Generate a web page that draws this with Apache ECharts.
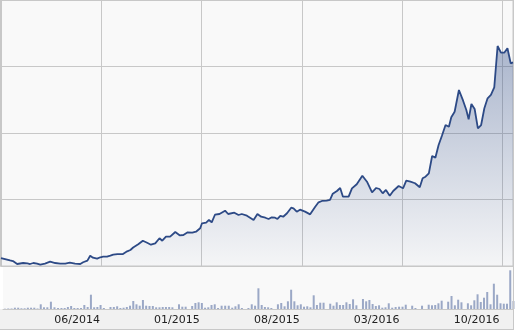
<!DOCTYPE html>
<html><head><meta charset="utf-8">
<script src="https://cdn.jsdelivr.net/npm/echarts@6/dist/echarts.min.js"></script>
<style>html,body{margin:0;padding:0;background:#fff}#c{width:524px;height:331px}</style>
</head><body><div id="c"></div>
<script>
// ---- data ----
const priceDates = [
 '2013-11-01','2013-11-20','2013-11-26','2013-12-05','2013-12-18','2013-12-27',
 '2014-01-02','2014-01-09','2014-01-17','2014-01-24','2014-02-03','2014-02-13','2014-02-23',
 '2014-03-05','2014-03-16','2014-03-26','2014-04-06','2014-04-17','2014-04-23',
 '2014-05-02','2014-05-08','2014-05-14','2014-05-23','2014-05-30',
 '2014-06-05','2014-06-13','2014-06-20','2014-06-26',
 '2014-07-05','2014-07-11','2014-07-17','2014-07-26',
 '2014-08-02','2014-08-08','2014-08-19','2014-08-29',
 '2014-09-07','2014-09-15','2014-09-24',
 '2014-10-03','2014-10-09','2014-10-17','2014-10-26',
 '2014-11-06','2014-11-15','2014-11-23',
 '2014-12-02','2014-12-12','2014-12-20','2014-12-29',
 '2015-01-02','2015-01-11','2015-01-17','2015-01-23','2015-01-30',
 '2015-02-08','2015-02-19','2015-02-25',
 '2015-03-10','2015-03-19','2015-03-26',
 '2015-04-06','2015-04-20','2015-04-28',
 '2015-05-06','2015-05-15','2015-05-22','2015-05-29',
 '2015-06-05','2015-06-10','2015-06-16','2015-06-22','2015-06-30',
 '2015-07-09','2015-07-14','2015-07-21','2015-07-28',
 '2015-08-08','2015-08-19','2015-08-30',
 '2015-09-06','2015-09-13','2015-09-23','2015-09-30',
 '2015-10-06','2015-10-15','2015-10-22','2015-10-28',
 '2015-11-09','2015-11-16','2015-11-26',
 '2015-12-08','2015-12-18','2015-12-29',
 '2016-01-07','2016-01-14','2016-01-21','2016-01-28',
 '2016-02-05','2016-02-12','2016-02-23',
 '2016-03-03','2016-03-10','2016-03-19','2016-03-29',
 '2016-04-08','2016-04-14','2016-04-20','2016-04-27',
 '2016-05-04','2016-05-11','2016-05-18','2016-05-25',
 '2016-06-02','2016-06-09','2016-06-14','2016-06-21','2016-06-30',
 '2016-07-09','2016-07-16','2016-07-21','2016-07-27',
 '2016-08-03','2016-08-10','2016-08-17','2016-08-24','2016-08-31',
 '2016-09-07','2016-09-14','2016-09-21','2016-09-28',
 '2016-10-05','2016-10-12','2016-10-19','2016-10-24'
];
const priceValues = [
 11.20,10.83,10.75,10.30,10.45,10.41,
 10.30,10.45,10.35,10.20,10.35,10.65,10.45,
 10.35,10.35,10.50,10.35,10.30,10.56,
 10.80,11.55,11.25,11.10,11.31,
 11.40,11.40,11.55,11.70,
 11.80,11.80,11.80,12.21,
 12.41,12.78,13.26,13.80,
 13.50,13.20,13.41,
 14.17,13.80,14.41,14.41,
 15.11,14.62,14.66,
 15.07,15.01,15.16,15.67,
 16.42,16.51,16.92,16.57,17.71,
 17.82,18.32,17.82,
 18.02,17.67,17.82,
 17.56,16.92,17.82,
 17.41,17.26,17.07,17.32,
 17.26,17.07,17.52,17.41,17.93,
 18.77,18.68,18.17,18.47,
 18.17,17.77,18.92,
 19.58,19.78,19.82,19.93,
 20.87,21.28,21.73,20.42,
 20.42,21.68,22.29,
 23.58,22.68,21.08,
 21.73,21.58,20.93,21.43,
 20.57,21.28,22.03,
 21.68,22.83,22.68,22.44,
 21.84,23.19,23.43,23.94,
 26.54,26.29,28.20,29.55,
 31.20,30.95,32.36,33.20,36.47,
 34.86,33.46,32.06,34.36,
 33.61,30.71,31.20,33.72,35.22,
 35.72,36.87,43.08,42.08,
 42.08,42.74,40.48,40.63
];
const volumeStart = '2013-11-05'; // weekly bars
const volumeValues = [
 30,50,50,130,130,70,70,130,130,130,50,470,170,170,730,170,100,100,100,200,
 300,100,100,100,400,200,1430,170,200,400,100,0,200,200,270,100,130,200,330,800,
 470,330,900,330,300,300,170,170,200,200,200,170,0,470,230,230,0,300,600,670,
 600,130,170,400,470,100,330,330,330,130,270,470,100,0,100,470,330,2070,400,
 200,170,100,0,470,600,270,770,1930,770,370,470,230,270,170,1370,400,630,630,0,
 530,330,670,400,400,670,500,970,370,0,1000,770,900,500,300,370,130,170,570,130,
 200,230,230,430,0,330,100,0,330,0,430,370,400,570,830,0,730,1300,370,930,
 670,0,570,370,870,1470,700,1130,1700,470,2530,1430,570,530,530,3870,800
];
const tickLabels = ['06/2014','01/2015','08/2015','03/2016','10/2016'];
const axisStart = '2013-11-01';
const axisEnd = '2016-10-24';

// ---- helpers ----
function monthsSince(y, m, d) {
  const dim = new Date(Date.UTC(y, m, 0)).getUTCDate();
  return (y - 2013) * 12 + (m - 11) + (d - 1) / dim;
}
function monthsOf(s) { const p = s.split('-').map(Number); return monthsSince(p[0], p[1], p[2]); }

const priceData = priceDates.map((d, i) => [monthsOf(d), priceValues[i]]);
const vs = volumeStart.split('-').map(Number);
const volData = volumeValues.map((v, i) => {
  const dt = new Date(Date.UTC(vs[0], vs[1] - 1, vs[2]) + i * 7 * 864e5);
  return [monthsSince(dt.getUTCFullYear(), dt.getUTCMonth() + 1, dt.getUTCDate()), v];
});
const xMin = monthsOf(axisStart), xMax = monthsOf(axisEnd);

const chart = echarts.init(document.getElementById('c'), null, {renderer: 'canvas'});
const grey = '#c8c8c8';
chart.setOption({
  animation: false,
  backgroundColor: '#ffffff',
  grid: [
    {left: 1, right: 11, top: 0, height: 266, show: true, backgroundColor: '#f9f9f9', borderColor: grey, borderWidth: 1},
    {left: 1, right: 11, top: 266, height: 43, show: true, backgroundColor: '#f9f9f9', borderWidth: 0}
  ],
  graphic: [
    {type: 'rect', z: -10, shape: {x: 0, y: 309, width: 513.5, height: 21}, style: {fill: '#f1f1f1'}},
    {type: 'line', z: 10, shape: {x1: 0, y1: 329.5, x2: 513.5, y2: 329.5}, style: {stroke: grey, lineWidth: 1}},
    {type: 'line', z: 10, shape: {x1: 513.5, y1: 266, x2: 513.5, y2: 330}, style: {stroke: grey, lineWidth: 1}}
  ],
  xAxis: [
    {type: 'value', gridIndex: 0, min: xMin, max: xMax, interval: 7,
     axisLine: {show: false}, axisTick: {show: false}, axisLabel: {show: false},
     splitLine: {show: true, lineStyle: {color: grey, width: 1}}},
    {type: 'value', gridIndex: 1, min: xMin, max: xMax, interval: 7,
     axisLine: {show: true, lineStyle: {color: grey, width: 1}}, axisTick: {show: false},
     splitLine: {show: false}, showMaxLabel: false,
     axisLabel: {show: true, align: 'right', padding: [0, 3, 0, 0], margin: 6,
       fontFamily: 'DejaVu Sans', fontSize: 11, color: '#222',
       formatter: function (v) {
         const k = Math.round(v / 7) - 1;
         if (Math.abs(v - Math.round(v / 7) * 7) > 1e-6 || k < 0 || k >= tickLabels.length) return '';
         return tickLabels[k];
       }}}
  ],
  yAxis: [
    {type: 'value', gridIndex: 0, min: 10, max: 50, interval: 10,
     axisLine: {show: true, lineStyle: {color: grey, width: 2}}, axisTick: {show: false}, axisLabel: {show: false},
     splitLine: {show: true, lineStyle: {color: grey, width: 1}}},
    {type: 'value', gridIndex: 1, min: 0, max: 4300,
     axisLine: {show: false}, axisTick: {show: false}, axisLabel: {show: false}, splitLine: {show: false}}
  ],
  series: [
    {type: 'line', xAxisIndex: 0, yAxisIndex: 0, data: priceData, showSymbol: false, clip: true,
     lineStyle: {color: '#2d4a86', width: 1.8},
     areaStyle: {color: new echarts.graphic.LinearGradient(0, 0, 0, 1, [
       {offset: 0, color: 'rgba(45,74,134,0.55)'},
       {offset: 1, color: 'rgba(45,74,134,0.03)'}
     ])}},
    {type: 'bar', xAxisIndex: 1, yAxisIndex: 1, data: volData, barWidth: 2,
     itemStyle: {color: '#9ba8c6'}}
  ]
});
</script>
</body></html>
